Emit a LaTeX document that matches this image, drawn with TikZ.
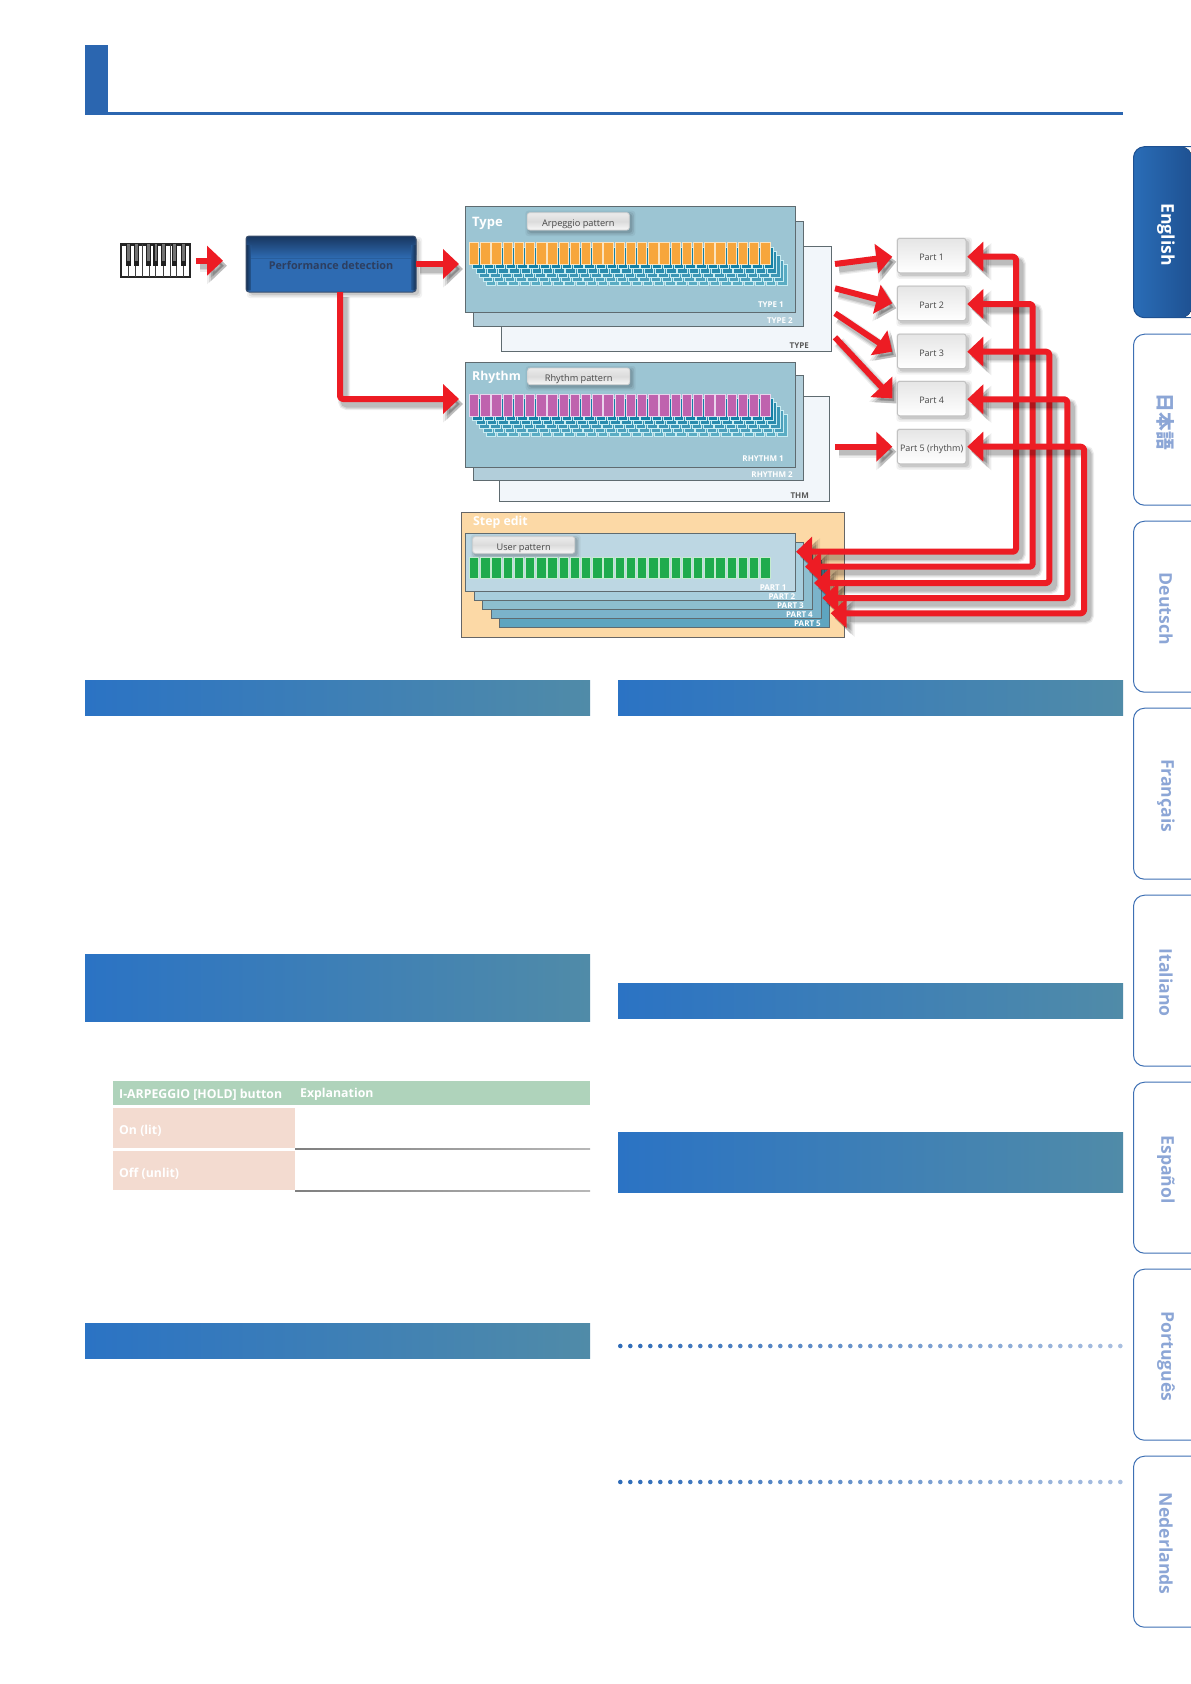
\documentclass[tikz,border=0pt]{standalone}
\usepackage{fontspec}
\setmainfont{Open Sans}
\newfontfamily\jpfont{Noto Sans CJK JP}
\usetikzlibrary{arrows.meta,calc}
\definecolor{redarrow}{HTML}{ED1C24}
\definecolor{edgegrey}{HTML}{5F6B70}
\definecolor{tabblue}{HTML}{3E70B4}
\definecolor{tabtext}{HTML}{8CA6D6}
\definecolor{barL}{HTML}{2B73C4}
\definecolor{barR}{HTML}{508BA8}
\definecolor{headblue}{HTML}{2B66B0}
\definecolor{tealA}{HTML}{1380A6}
\definecolor{tealB}{HTML}{2A8BAD}
\definecolor{tealC}{HTML}{3C96B5}
\definecolor{tealD}{HTML}{4B9FBB}
\definecolor{tealE}{HTML}{5AACC3}
\definecolor{tealEdge}{HTML}{C8ECF2}
\definecolor{orangebar}{HTML}{F7A63C}
\definecolor{orangeedge}{HTML}{FBE3BE}
\definecolor{purplebar}{HTML}{BF62AE}
\definecolor{purpleedge}{HTML}{EAD3EC}
\definecolor{greenbar}{HTML}{1FAB4D}
\definecolor{greenedge}{HTML}{C4EBCF}
\definecolor{sheetA}{HTML}{9CC5D3}
\definecolor{sheetB}{HTML}{B2CEDA}
\definecolor{sheetC}{HTML}{F2F6FA}
\definecolor{stepbgc}{HTML}{FCD9A6}
\definecolor{pA}{HTML}{BDD7E3}
\definecolor{pB}{HTML}{A8CEDD}
\definecolor{pC}{HTML}{8DBECF}
\definecolor{pD}{HTML}{7BB3CA}
\definecolor{pE}{HTML}{5EA5C0}
\definecolor{perfBase}{HTML}{2E6BB2}
\definecolor{perfDark}{HTML}{18365F}
\definecolor{perfEdge}{HTML}{3C506E}
\definecolor{perfText}{HTML}{2D3E5F}
\definecolor{tabL}{HTML}{2A6DB7}
\definecolor{tabR}{HTML}{1E5192}
\definecolor{greenhead}{HTML}{AFD3BB}
\definecolor{pinkcell}{HTML}{F3DBD0}
\definecolor{dotL}{HTML}{2F6CB8}
\definecolor{dotR}{HTML}{A9BFE0}
\tikzset{
  x=1pt,y=-1pt,
  rhead/.style 2 args={-{Triangle[length=#1,width=#2]}},
  bhead/.style 2 args={{Triangle[length=#1,width=#2]}-{Triangle[length=#1,width=#2]}},
  redline/.style={draw=redarrow,line width=6pt,rounded corners=3pt,line join=round},
  softline/.style={draw=black,rounded corners=3pt,transform canvas={shift={(4,5)}}},
  sheet/.style={draw=edgegrey,line width=0.9pt,inner sep=0pt,outer sep=0pt,anchor=north west},
  panel/.style={rounded corners=2.5pt,inner sep=0pt,outer sep=0pt,anchor=north west,draw=black!18,line width=0.8pt,top color=black!8,bottom color=black!3,middle color=black!14,text=black!72,text height=10pt,text depth=0pt,font=\fontsize{9.2}{11}\selectfont},
  partbox/.style={panel,draw=black!24,line width=1pt,top color=black!10,bottom color=white,middle color=black!5,text height=10pt,text depth=0pt,font=\fontsize{9}{11}\selectfont},
  whitelabel/.style={text=white,font=\bfseries\fontsize{8}{10}\selectfont,inner sep=0pt,anchor=east},
  titlelabel/.style={text=white,font=\bfseries\fontsize{13}{16}\selectfont,inner sep=0pt,anchor=west},
  secbar/.style={left color=barL,right color=barR,draw=none,inner sep=0pt,outer sep=0pt,anchor=north west},
  tabname/.style={rotate=-90,text=tabtext,font=\bfseries\fontsize{17.6}{22}\selectfont,inner sep=0pt},
  tablehead/.style={text=white,font=\bfseries\fontsize{12.3}{15}\selectfont,inner sep=0pt,anchor=west},
  tablecell/.style={fill=#1,draw=none,inner sep=0pt,outer sep=0pt,anchor=north west},
}
\newcommand{\redpath}[3]{%
  \foreach \w/\o/\hl/\hw in {12/.07/20/36,9.5/.09/18/33,7/.12/16/30}{%
    \draw[softline,opacity=\o,line width=\w pt,#1={\hl pt}{\hw pt},#2] #3;}
  \draw[redline,#1={16pt}{29pt},#2] #3;}
% bars: x0, ytop, ybot, colour, border
\newcommand{\barrow}[5]{%
  \foreach \i in {0,...,26}{%
    \path[fill=#4,draw=#5,line width=0.8pt] ({#1+\i*11.2},{#2}) rectangle ({#1+\i*11.2+9.4},{#3});}}
\newcommand{\softbox}[5]{%
  \foreach \s/\o in {5/.05,3.5/.07,2/.10}{%
    \fill[black,opacity=\o,rounded corners=3pt] ({#1+#5-\s+2},{#2+#5-\s+2}) rectangle ({#3+\s+1},{#4+\s+1});}}
\newcommand{\tabpath}[1]{[rounded corners=11pt] (1192,#1) -- (1133.5,#1) -- (1133.5,{#1+171}) -- (1192,{#1+171})}
\begin{document}
\begin{tikzpicture}
\useasboundingbox (0,0) rectangle (1191,1684);
\fill[white] (0,0) rectangle (1191,1684);
% page header
\node[fill=headblue,inner sep=0pt,outer sep=0pt,anchor=north west,minimum width=22.7pt,minimum height=70pt] (headblock) at (85,45) {};
\coordinate (rulestart) at (85,113.5);
\coordinate (ruleend) at (1123,113.5);
\draw[draw=headblue,line width=3pt] (rulestart) -- (ruleend);
% keyboard
\node[draw=black!85,fill=white,line width=2.4pt,inner sep=0pt,outer sep=0pt,anchor=north west,minimum width=68.8pt,minimum height=32.6pt] (keys) at (121,244.4) {};
\foreach \xx in {128.3,135.5,142.5,149,155.7,163.3,170,176.5,183.3}{\draw[black!75,line width=0.8pt] (\xx,244) -- (\xx,277);}
\foreach \xx in {128.3,136.5,148.3,155.7,163.3,174.3,183.3}{%
  \fill[black!88] ({\xx-2.4},244) rectangle ({\xx+2.4},265.5);
  \fill[black!55] ({\xx-1.2},244) rectangle ({\xx+1.2},261);}
% performance box
\softbox{246}{236}{416}{292}{4}
\node[fill=perfBase,rounded corners=3pt,inner sep=0pt,outer sep=0pt,anchor=north west,minimum width=170pt,minimum height=56pt] (perf) at (246,236) {};
\fill[rounded corners=3pt,top color=perfDark,bottom color=perfBase] (246,236) rectangle (416,258);
\fill[left color=perfDark,right color=perfBase,opacity=.8] (246,245) rectangle (251,290);
\fill[right color=perfDark,left color=perfBase,opacity=.8] (411,245) rectangle (416,290);
\draw[rounded corners=3pt,draw=perfEdge,line width=1pt] (246,236) rectangle (416,292);
\node[text=perfText,font=\bfseries\fontsize{10.8}{12}\selectfont,inner sep=0pt] (perftext) at (331,265) {Performance detection};
% Type stack
\node[sheet,fill=sheetC,minimum width=330pt,minimum height=104.6pt] (type3) at (501.3,246.7) {};
\node[sheet,fill=sheetB,minimum width=330pt,minimum height=104.6pt] (type2) at (473.3,221.7) {};
\node[sheet,fill=sheetA,minimum width=330.4pt,minimum height=105.3pt] (type1) at (465.3,206.7) {};
\node[titlelabel] (typetitle) at (472,223.5) {Type};
\softbox{527.3}{212.7}{629.3}{230}{1}
\node[panel,minimum width=102pt,minimum height=17.3pt] (arp) at (527.3,212.7) {Arpeggio pattern};
\foreach \k/\c in {5/tealE,4/tealD,3/tealC,2/tealB,1/tealA}{%
  \barrow{469.3+3.4*\k}{242.7+4.3*\k}{264.3+4.3*\k}{\c}{tealEdge}}
\barrow{469.3}{242.7}{264.3}{orangebar}{orangeedge}
\node[whitelabel] (ltype1) at (784,305) {TYPE 1};
\node[whitelabel] (ltype2) at (793,320.5) {TYPE 2};
\node[whitelabel,text=black!65] (ltype3) at (809,345.5) {TYPE};
% Rhythm stack
\node[sheet,fill=sheetC,minimum width=330pt,minimum height=105pt] (rhy3) at (499.3,396.3) {};
\node[sheet,fill=sheetB,minimum width=330pt,minimum height=105pt] (rhy2) at (473.3,375.3) {};
\node[sheet,fill=sheetA,minimum width=330.4pt,minimum height=105pt] (rhy1) at (465.3,362.3) {};
\node[titlelabel,font=\bfseries\fontsize{12.3}{16}\selectfont] (rhytitle) at (472,377.5) {Rhythm};
\softbox{527.7}{368}{629.7}{384.7}{1}
\node[panel,minimum width=102pt,minimum height=16.7pt] (rhypat) at (527.7,368) {Rhythm pattern};
\foreach \k/\c in {5/tealE,4/tealD,3/tealC,2/tealB,1/tealA}{%
  \barrow{469.3+3.4*\k}{394.3+4*\k}{416+4*\k}{\c}{tealEdge}}
\barrow{469.3}{394.3}{416}{purplebar}{purpleedge}
\node[whitelabel] (lrhy1) at (784,459) {RHYTHM 1};
\node[whitelabel] (lrhy2) at (793,475) {RHYTHM 2};
\node[whitelabel,text=black!65] (lrhy3) at (809,495.5) {THM};
% Step edit
\node[sheet,draw=black!60,fill=stepbgc,minimum width=383.4pt,minimum height=124.6pt] (stepbg) at (461.3,512.7) {};
\node[titlelabel,font=\bfseries\fontsize{12.3}{16}\selectfont] (steptitle) at (473,522) {Step edit};
\node[sheet,fill=pE,minimum width=330pt,minimum height=58pt] (p5) at (499.3,569.3) {};
\node[sheet,fill=pD,minimum width=330pt,minimum height=58pt] (p4) at (491.3,560.3) {};
\node[sheet,fill=pC,minimum width=330.4pt,minimum height=58pt] (p3) at (482.3,551) {};
\node[sheet,fill=pB,minimum width=329.4pt,minimum height=58pt] (p2) at (474.3,542) {};
\node[sheet,fill=pA,minimum width=330.4pt,minimum height=58pt] (p1) at (465.3,533.3) {};
\softbox{472.7}{536.7}{574.7}{553.3}{1}
\node[panel,minimum width=102pt,minimum height=16.6pt] (userpat) at (472.7,536.7) {User pattern};
\barrow{469.3}{557.3}{578.3}{greenbar}{greenedge}
\node[whitelabel] (lp1) at (786.7,587.8) {PART 1};
\node[whitelabel] (lp2) at (795.5,596.8) {PART 2};
\node[whitelabel] (lp3) at (804,605.5) {PART 3};
\node[whitelabel] (lp4) at (813,615) {PART 4};
\node[whitelabel] (lp5) at (821,623.5) {PART 5};
% parts
\foreach \nm/\yy/\tt in {part1/238.3/Part 1,part2/286/Part 2,part3/334/Part 3,part4/381.3/Part 4,part5/429.3/Part 5 (rhythm)}{%
  \softbox{897.3}{\yy}{966}{\yy+34.5}{2}
  \node[partbox,minimum width=68.7pt,minimum height=34.5pt] (\nm) at (897.3,\yy) {\tt};}
% connector ends
\coordinate (perfS) at (340,292);
\coordinate (rhyTip) at (459,399);
\coordinate (s1) at (835,264);
\coordinate (s2) at (835,288.3);
\coordinate (s3) at (835,313.3);
\coordinate (s4) at (835,337.3);
\coordinate (s5) at (835,446.7);
\coordinate (t1) at (892.3,256.7);
\coordinate (t2) at (892.3,303.3);
\coordinate (t3) at (892.3,351.7);
\coordinate (t4) at (892.3,398.5);
\coordinate (t5) at (892.3,446.7);
\coordinate (e1) at (967.3,256.7);
\coordinate (e2) at (967.3,304);
\coordinate (e3) at (967.3,351.7);
\coordinate (e4) at (967.3,399.3);
\coordinate (e5) at (967.3,446.7);
\coordinate (v1) at (1016,551.7);
\coordinate (v2) at (1032.7,566.7);
\coordinate (v3) at (1049.3,583);
\coordinate (v4) at (1067.3,598);
\coordinate (v5) at (1084,613.3);
\coordinate (b1) at (796,551.7);
\coordinate (b2) at (805,566.7);
\coordinate (b3) at (814,583);
\coordinate (b4) at (822.3,598);
\coordinate (b5) at (830.7,613.3);
% connectors
\redpath{rhead}{shorten <=6pt,shorten >=23pt}{(keys.east) -- (keys.east -| perf.west)}
\redpath{rhead}{shorten >=6.3pt}{(perf.east) -- (perf.east -| type1.west)}
\redpath{rhead}{}{(perfS) |- (rhyTip)}
\redpath{rhead}{}{(s1) -- (t1)}
\redpath{rhead}{}{(s2) -- (t2)}
\redpath{rhead}{}{(s3) -- (t3)}
\redpath{rhead}{}{(s4) -- (t4)}
\redpath{rhead}{}{(s5) -- (t5)}
\redpath{bhead}{}{(e1) -| (v1) -- (b1)}
\redpath{bhead}{}{(e2) -| (v2) -- (b2)}
\redpath{bhead}{}{(e3) -| (v3) -- (b3)}
\redpath{bhead}{}{(e4) -| (v4) -- (b4)}
\redpath{bhead}{}{(e5) -| (v5) -- (b5)}
% section bars
\node[secbar,minimum width=505pt,minimum height=35.5pt] (secA) at (85,680) {};
\node[secbar,minimum width=505pt,minimum height=67.5pt] (secB) at (85,954) {};
\node[secbar,minimum width=505pt,minimum height=35.5pt] (secC) at (85,1323) {};
\node[secbar,minimum width=505pt,minimum height=35.5pt] (secD) at (618,680) {};
\node[secbar,minimum width=505pt,minimum height=35.5pt] (secE) at (618,983) {};
\node[secbar,minimum width=505pt,minimum height=60pt] (secF) at (618,1132) {};
% table
\node[tablecell=greenhead,minimum width=476.6pt,minimum height=24.3pt] (thead) at (113.4,1080.7) {};
\node[tablehead] (th1) at (119,1094.7) {I-ARPEGGIO [HOLD] button};
\node[tablehead] (th2) at (300,1094.7) {Explanation};
\node[tablecell=pinkcell,minimum width=181.6pt,minimum height=40.3pt] (onc) at (113.4,1107.7) {};
\node[tablecell=pinkcell,minimum width=181.6pt,minimum height=38.7pt] (offc) at (113.4,1151) {};
\node[tablehead] (ont) at (119,1130.7) {On (lit)};
\node[tablehead] (offt) at (119,1173.7) {Off (unlit)};
\fill[left color=black!50,right color=black!28] (295,1148.9) rectangle (590,1149.8);
\fill[left color=black!50,right color=black!28] (295,1190.8) rectangle (590,1191.7);
% dotted rules
\foreach \yy in {1346,1482}{%
  \foreach \i in {0,...,50}{%
    \pgfmathtruncatemacro{\pc}{100-2*\i}
    \fill[dotL!\pc!dotR] ({620.3+\i*10},\yy) circle[radius=2.3];}}
% tabs
\fill[left color=tabL,right color=tabR] \tabpath{146.7} -- cycle;
\draw[tabR,line width=1pt] \tabpath{146.7};
\node[tabname,text=white] (tEn) at (1166,234.7) {English};
\foreach \nm/\yy in {t2/334.2,t3/521.2,t4/708.2,t5/895.2,t6/1082.2,t7/1269.2,t8/1456.2}{%
  \draw[tabblue,line width=1pt] \tabpath{\yy};}
\node[tabname,font=\jpfont\bfseries\fontsize{18.7}{22}\selectfont] (tJa) at (1166,421.7) {日本語};
\node[tabname] (tDe) at (1166,608.7) {Deutsch};
\node[tabname] (tFr) at (1166,795.7) {Français};
\node[tabname] (tIt) at (1166,982.7) {Italiano};
\node[tabname] (tEs) at (1166,1169.7) {Español};
\node[tabname] (tPt) at (1166,1356.7) {Português};
\node[tabname] (tNl) at (1166,1543.7) {Nederlands};
\end{tikzpicture}
\end{document}
